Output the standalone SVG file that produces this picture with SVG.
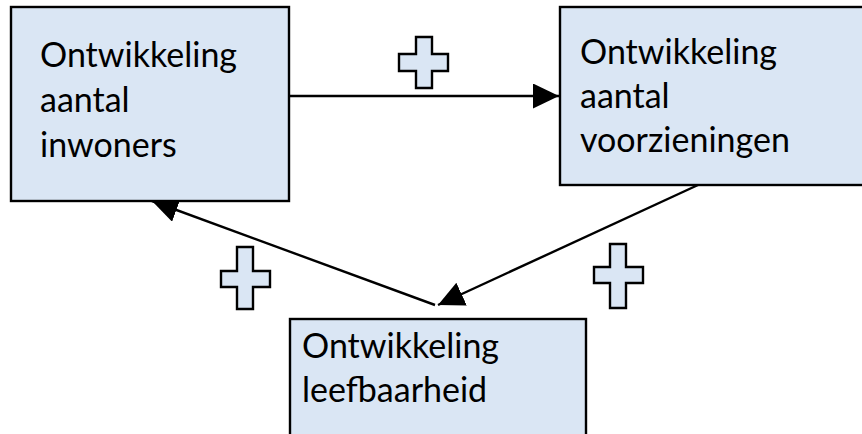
<svg xmlns="http://www.w3.org/2000/svg" width="862" height="434" viewBox="0 0 862 434">
  <defs>
    <style>
      .box { fill: #dae6f4; stroke: #000; stroke-width: 2.4; }
      .plus { fill: #dae6f4; stroke: #000; stroke-width: 2.4; stroke-linejoin: miter; }
      .label { font-family: Lato, "Open Sans", "Liberation Sans", sans-serif; font-size: 34px; fill: #000; }
      .edge { stroke: #000; stroke-width: 2.4; fill: none; marker-end: url(#head); }
    </style>
    <marker id="head" markerUnits="userSpaceOnUse" markerWidth="28" markerHeight="26" refX="26" refY="12.5" orient="auto">
      <path d="M0,0 L26,12.5 L0,25 Z" fill="#000"/>
    </marker>
  </defs>

  <rect width="862" height="434" fill="#fff"/>

  <g id="connectors">
    <line class="edge" x1="289" y1="96" x2="559" y2="96"/>
    <line class="edge" x1="698" y1="185" x2="438" y2="305"/>
    <line class="edge" x1="435" y1="305" x2="152" y2="201"/>
  </g>

  <g id="node-inwoners">
    <rect class="box" x="11" y="7" width="278" height="194"/>
    <text class="label" x="40" y="67">Ontwikkeling</text>
    <text class="label" x="40" y="112">aantal</text>
    <text class="label" x="40" y="157">inwoners</text>
  </g>

  <g id="node-voorzieningen">
    <rect class="box" x="560" y="7" width="310" height="178"/>
    <text class="label" x="580" y="64">Ontwikkeling</text>
    <text class="label" x="580" y="108">aantal</text>
    <text class="label" x="580" y="152">voorzieningen</text>
  </g>

  <g id="node-leefbaarheid">
    <rect class="box" x="290" y="319" width="296" height="130"/>
    <text class="label" x="302" y="358">Ontwikkeling</text>
    <text class="label" x="302" y="402">leefbaarheid</text>
  </g>

  <g id="sign-top">
    <path class="plus" d="M416,37 H432 V54 H448 V71 H432 V88 H416 V71 H399 V54 H416 Z"/>
  </g>
  <g id="sign-left">
    <path class="plus" d="M237,247 H253 V271 H270 V287 H253 V309 H237 V287 H221 V271 H237 Z"/>
  </g>
  <g id="sign-right">
    <path class="plus" d="M610,244 H626 V267 H643 V283 H626 V308 H610 V283 H594 V267 H610 Z"/>
  </g>
</svg>
